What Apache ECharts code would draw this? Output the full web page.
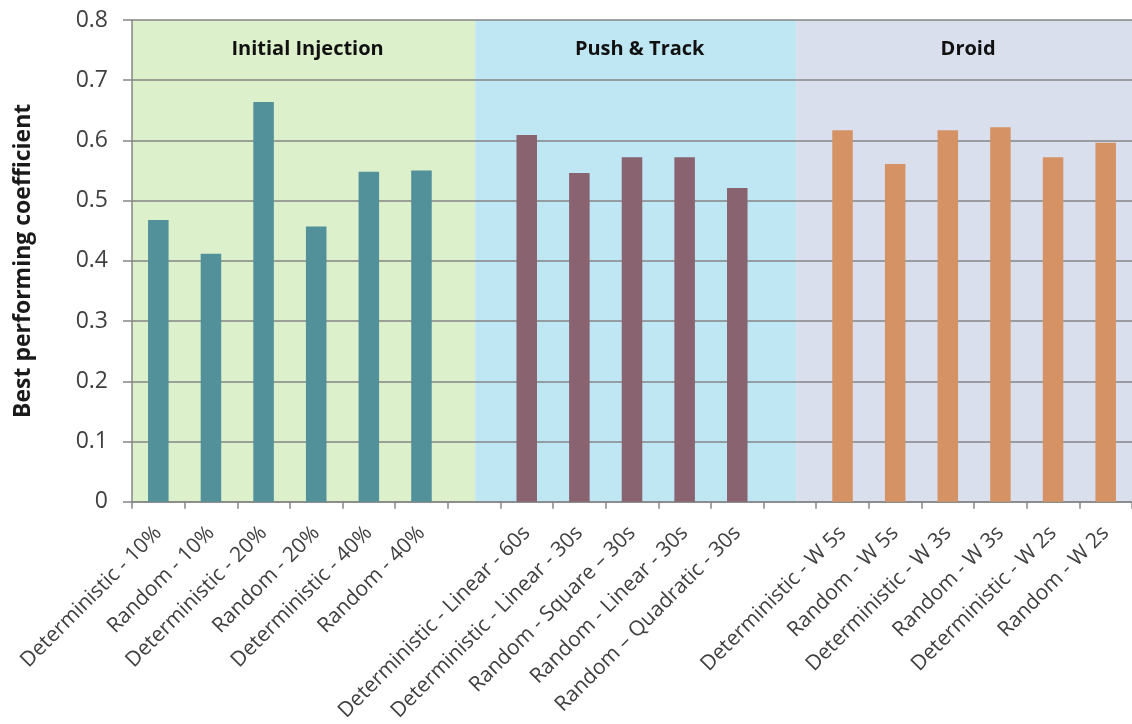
<!DOCTYPE html>
<html>
<head>
<meta charset="utf-8">
<title>Best performing coefficient</title>
<script src="https://cdn.jsdelivr.net/npm/echarts@6/dist/echarts.min.js"></script>
<style>
  html, body { margin: 0; padding: 0; background: #ffffff; }
  #chart { width: 1132px; height: 724px; }
</style>
</head>
<body>
<div id="chart"></div>
<script>
// Category axis: each group is followed by one empty slot
const categories = [
  'Deterministic - 10%', 'Random - 10%', 'Deterministic - 20%', 'Random - 20%',
  'Deterministic - 40%', 'Random - 40%', '',
  'Deterministic - Linear - 60s', 'Deterministic - Linear - 30s', 'Random - Square \u2013 30s',
  'Random - Linear - 30s', 'Random \u2013 Quadratic - 30s', '',
  'Deterministic - W 5s', 'Random - W 5s', 'Deterministic - W 3s', 'Random - W 3s',
  'Deterministic - W 2s', 'Random - W 2s'
];

// Best performing coefficient per configuration
const injectionValues = [0.468, 0.412, 0.664, 0.457, 0.548, 0.550];
const pushTrackValues = [0.609, 0.546, 0.572, 0.572, 0.521];
const droidValues = [0.617, 0.561, 0.617, 0.622, 0.572, 0.596];

// Groups: name, first category index, shaded span (in category units)
const groupNames = ['Initial Injection', 'Push & Track', 'Droid'];
const groupFirstIndex = [0, 7, 13];
const groupSpanStart = [0, 6.52, 12.62];
const groupSpanEnd = [6.52, 12.62, 19];

const yTicks = [0, 0.1, 0.2, 0.3, 0.4, 0.5, 0.6, 0.7, 0.8];

const barColors = ['#52909a', '#8a6370', '#d59365'];
const bandColors = ['#dcf0cb', '#bee7f3', '#dadfee'];

const groupValues = [injectionValues, pushTrackValues, droidValues];

function fullRow(values, start) {
  const row = categories.map(() => '-');
  values.forEach((v, i) => { row[start + i] = v; });
  return row;
}

const bandData = groupNames.map((name, i) => [groupSpanStart[i], groupSpanEnd[i], i]);

const chart = echarts.init(document.getElementById('chart'), null, { renderer: 'canvas' });

const axisGray = '#868686';
const textGray = '#404040';

const option = {
  animation: false,
  backgroundColor: '#ffffff',
  grid: { left: 132, top: 20, right: -2, bottom: 219.5, containLabel: false },
  xAxis: [
    {
      type: 'category',
      data: categories,
      z: 1,
      boundaryGap: true,
      axisLine: { show: true, lineStyle: { color: axisGray, width: 1.5 } },
      axisTick: { show: true, length: 7, interval: 0, lineStyle: { color: axisGray, width: 1.5 } },
      axisLabel: {
        interval: 0,
        rotate: 45,
        margin: 28,
        color: textGray,
        fontFamily: 'Open Sans',
        fontSize: 21
      },
      splitLine: { show: false }
    },
    {
      type: 'value',
      min: 0,
      max: categories.length,
      show: false
    }
  ],
  yAxis: {
    type: 'value',
    min: yTicks[0],
    max: yTicks[yTicks.length - 1],
    interval: 0.1,
    z: 1,
    name: 'Best performing coefficient',
    nameLocation: 'middle',
    nameGap: 97,
    nameTextStyle: {
      color: '#1a1a1a',
      fontFamily: 'Open Sans',
      fontWeight: 'bold',
      fontSize: 23
    },
    axisLine: { show: true, lineStyle: { color: axisGray, width: 1.5 } },
    axisTick: { show: true, length: 9, lineStyle: { color: axisGray, width: 1.5 } },
    axisLabel: {
      margin: 24,
      color: textGray,
      fontFamily: 'Open Sans',
      fontSize: 23,
      formatter: v => (v === 0 ? '0' : v.toFixed(1))
    },
    splitLine: { show: true, lineStyle: { color: axisGray, width: 1.5 } }
  },
  series: [
    {
      type: 'custom',
      name: 'bands',
      xAxisIndex: 1,
      yAxisIndex: 0,
      z: 0,
      silent: true,
      data: bandData,
      encode: { x: [0, 1] },
      renderItem: function (params, api) {
        const cs = params.coordSys;
        const x0 = api.coord([api.value(0), 0])[0];
        const x1 = api.coord([api.value(1), 0])[0];
        const idx = api.value(2);
        return {
          type: 'group',
          children: [
            {
              type: 'rect',
              shape: { x: x0, y: cs.y, width: x1 - x0, height: cs.height },
              style: { fill: bandColors[idx] }
            },
            {
              type: 'text',
              style: {
                text: groupNames[idx],
                x: (x0 + x1) / 2 + 4,
                y: cs.y + 29,
                align: 'center',
                verticalAlign: 'middle',
                fill: '#111111',
                font: 'bold 20px "Open Sans"'
              }
            }
          ]
        };
      }
    },
    ...groupNames.map((name, g) => ({
      type: 'bar',
      name: name,
      stack: 'coef',
      xAxisIndex: 0,
      yAxisIndex: 0,
      z: 2,
      barWidth: '39%',
      itemStyle: { color: barColors[g] },
      data: fullRow(groupValues[g], groupFirstIndex[g])
    }))
  ]
};

chart.setOption(option);
</script>
</body>
</html>
